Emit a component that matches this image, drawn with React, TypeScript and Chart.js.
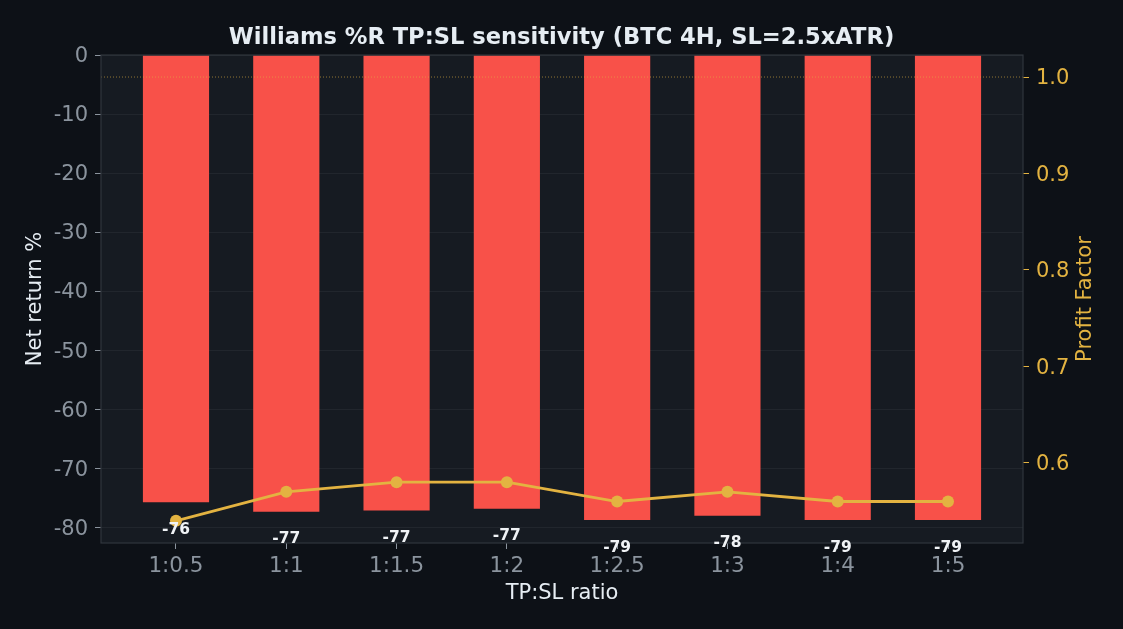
import React, { useRef, useEffect } from 'react';
import Chart from 'chart.js/auto';

const ratios = ['1:0.5', '1:1', '1:1.5', '1:2', '1:2.5', '1:3', '1:4', '1:5'];
const netReturns = [-75.8, -77.4, -77.2, -76.9, -78.8, -78.1, -78.8, -78.8];
const profitFactors = [0.54, 0.57, 0.58, 0.58, 0.56, 0.57, 0.56, 0.56];
const returnTicks = [0, -10, -20, -30, -40, -50, -60, -70, -80];
const pfTicks = [0.6, 0.7, 0.8, 0.9, 1.0];
const breakEvenPF = 1.0;

const FONT = "'DejaVu Sans', sans-serif";
const BG = '#0d1117';
const PANEL = '#161b22';
const RED = '#f85149';
const GOLD = '#e3b341';
const MUTED = '#8b949e';
const TEXT = '#e6edf3';

const App: React.FC = () => {
    const canvasRef = useRef<HTMLCanvasElement | null>(null);
    const chartRef = useRef<Chart | null>(null);

    useEffect(() => {
        if (!canvasRef.current) return;
        const ctx = canvasRef.current.getContext('2d');
        if (!ctx) return;

        if (chartRef.current) {
            chartRef.current.destroy();
        }

        Chart.defaults.font.family = FONT;

        // panel background, spines, break-even line, value labels, right axis title
        const decorations = {
            id: 'decorations',
            beforeDraw: (chart: any) => {
                const { ctx, chartArea: a, width, height } = chart;
                ctx.save();
                ctx.fillStyle = BG;
                ctx.fillRect(0, 0, width, height);
                ctx.fillStyle = PANEL;
                ctx.fillRect(a.left, a.top, a.right - a.left, a.bottom - a.top);
                ctx.restore();
            },
            afterDatasetsDraw: (chart: any) => {
                const { ctx, chartArea: a, scales } = chart;
                ctx.save();
                // break-even PF line
                const yBE = scales.y1.getPixelForValue(breakEvenPF);
                ctx.strokeStyle = 'rgba(227, 179, 65, 0.6)';
                ctx.lineWidth = 1;
                ctx.setLineDash([1, 2]);
                ctx.beginPath();
                ctx.moveTo(a.left, yBE);
                ctx.lineTo(a.right, yBE);
                ctx.stroke();
                ctx.setLineDash([]);

                // spines
                ctx.strokeStyle = '#30363d';
                ctx.lineWidth = 1.2;
                ctx.strokeRect(a.left, a.top, a.right - a.left, a.bottom - a.top);

                // bar value labels
                const meta = chart.getDatasetMeta(0);
                ctx.fillStyle = '#f0f3f6';
                ctx.font = `bold 15.5px ${FONT}`;
                ctx.textAlign = 'center';
                ctx.textBaseline = 'middle';
                meta.data.forEach((el: any, i: number) => {
                    ctx.fillText(String(Math.round(netReturns[i])), el.x, el.y + 27.5);
                });

                // right axis title (reads bottom to top)
                ctx.fillStyle = GOLD;
                ctx.font = `21px ${FONT}`;
                ctx.translate(1086, (a.top + a.bottom) / 2);
                ctx.rotate(-Math.PI / 2);
                ctx.fillText('Profit Factor', 0, 0);
                ctx.restore();
            },
        };

        chartRef.current = new Chart(ctx, {
            type: 'bar',
            data: {
                datasets: [
                    {
                        type: 'bar',
                        label: 'Net return %',
                        data: netReturns.map((v, i) => ({ x: i, y: v })),
                        backgroundColor: RED,
                        borderWidth: 0,
                        categoryPercentage: 1.0,
                        barPercentage: 0.6,
                        yAxisID: 'y',
                        order: 1,
                    },
                    {
                        type: 'line',
                        label: 'Profit Factor',
                        data: profitFactors.map((v, i) => ({ x: i, y: v })),
                        borderColor: GOLD,
                        backgroundColor: GOLD,
                        borderWidth: 2.8,
                        pointRadius: 6,
                        pointBorderWidth: 0,
                        pointBackgroundColor: GOLD,
                        tension: 0,
                        yAxisID: 'y1',
                        order: 0,
                    },
                ] as any,
            },
            options: {
                responsive: true,
                maintainAspectRatio: false,
                animation: false,
                layout: { padding: 0 },
                scales: {
                    x: {
                        type: 'linear',
                        min: -0.68,
                        max: 7.68,
                        offset: false,
                        afterBuildTicks: (s: any) => {
                            s.ticks = ratios.map((_, i) => ({ value: i }));
                        },
                        ticks: {
                            color: MUTED,
                            font: { size: 21.5 },
                            padding: 5,
                            maxRotation: 0,
                            autoSkip: false,
                            callback: (v: any) => ratios[v] ?? '',
                        },
                        grid: { drawOnChartArea: false, offset: false, tickLength: 6, tickColor: MUTED },
                        border: { display: false },
                        title: {
                            display: true,
                            text: 'TP:SL ratio',
                            color: TEXT,
                            font: { size: 21 },
                            padding: { top: 0, bottom: 23 },
                        },
                        afterFit: (s: any) => { s.height = 86; },
                    },
                    y: {
                        position: 'left',
                        min: -82.7,
                        max: 0,
                        afterBuildTicks: (s: any) => {
                            s.ticks = returnTicks.map(v => ({ value: v }));
                        },
                        ticks: { color: MUTED, font: { size: 21 }, padding: 7, labelOffset: 2 },
                        grid: { color: '#21262d', tickColor: MUTED, tickLength: 6 },
                        border: { display: false },
                        title: {
                            display: true,
                            text: 'Net return %',
                            color: TEXT,
                            font: { size: 21 },
                            padding: { top: 23, bottom: 0 },
                        },
                        afterFit: (s: any) => { s.width = 101; },
                    },
                    y1: {
                        position: 'right',
                        min: 0.517,
                        max: 1.0228,
                        afterBuildTicks: (s: any) => {
                            s.ticks = pfTicks.map(v => ({ value: v }));
                        },
                        ticks: {
                            color: GOLD,
                            font: { size: 21 },
                            padding: 7,
                            labelOffset: 2,
                            callback: (v: any) => Number(v).toFixed(1),
                        },
                        grid: { drawOnChartArea: false, tickColor: GOLD, tickLength: 6 },
                        border: { display: false },
                        afterFit: (s: any) => { s.width = 100; },
                    },
                },
                plugins: {
                    legend: { display: false },
                    tooltip: { enabled: false },
                    title: {
                        display: true,
                        text: 'Williams %R TP:SL sensitivity (BTC 4H, SL=2.5xATR)',
                        color: TEXT,
                        font: { size: 22.6, weight: 'bold' },
                        padding: { top: 24.5, bottom: 3.4 },
                    },
                },
            } as any,
            plugins: [decorations],
        });

        return () => {
            if (chartRef.current) {
                chartRef.current.destroy();
                chartRef.current = null;
            }
        };
    }, []);

    return (
        <div style={{ position: 'fixed', left: 0, top: 0, width: 1123, height: 629, background: BG }}>
            <canvas ref={canvasRef}></canvas>
        </div>
    );
};

export default App;
